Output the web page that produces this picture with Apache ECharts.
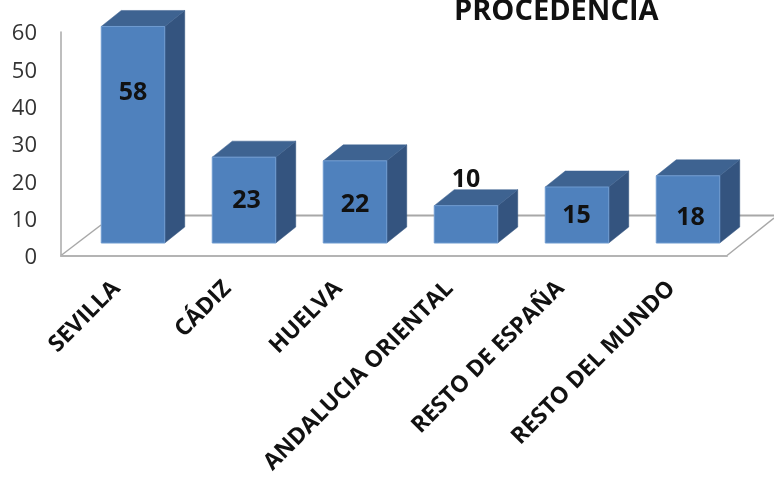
<!DOCTYPE html>
<html>
<head>
<meta charset="utf-8">
<style>html,body{margin:0;padding:0;background:#fff}#c{width:774px;height:477px}</style>
<script src="https://cdn.jsdelivr.net/npm/echarts@6/dist/echarts.min.js"></script>
</head>
<body>
<div id="c"></div>
<script>
const categories = ['SEVILLA', 'CÁDIZ', 'HUELVA', 'ANDALUCIA ORIENTAL', 'RESTO DE ESPAÑA', 'RESTO DEL MUNDO'];
const values = [58, 23, 22, 10, 15, 18];
const titleText = 'PROCEDENCIA';

// 3D look, in pixels
const barShift = 16.5, baseLift = 13, depthX = 20, depthY = 16, barRatio = 0.572;
const labelDx = [0, 2.5, 0, 0, -0.5, 2.5];
const labelDy = [-42, 1, 3, -44.5, 1, 8];
const font = '"Open Sans", "Noto Sans", sans-serif';

function renderBar(params, api) {
  const i = api.value(0), v = api.value(1);
  const top = api.coord([i, v]), base = api.coord([i, 0]);
  const w = api.size([1, 0])[0] * barRatio;
  const x0 = top[0] + barShift - w / 2, x1 = x0 + w;
  const y0 = top[1] - baseLift, y1 = base[1] - baseLift;
  const poly = (points, fill) => ({ type: 'polygon', shape: { points }, style: { fill, stroke: fill, lineWidth: 0.5 } });
  return {
    type: 'group',
    children: [
      poly([[x1, y0], [x1 + depthX, y0 - depthY], [x1 + depthX, y1 - depthY], [x1, y1]], '#34547f'),
      poly([[x0, y0], [x0 + depthX, y0 - depthY], [x1 + depthX, y0 - depthY], [x1, y0]], '#3e6391'),
      { type: 'rect', shape: { x: x0, y: y0, width: w, height: y1 - y0 },
        style: { fill: '#4f81bd', stroke: '#6f9bd0', lineWidth: 1 } },
      { type: 'text', z2: 10, style: {
          text: String(v), x: (x0 + x1) / 2 + labelDx[i], y: (y0 + y1) / 2 + labelDy[i],
          align: 'center', verticalAlign: 'middle', fill: '#111',
          font: '700 25px ' + font } }
    ]
  };
}

const chart = echarts.init(document.getElementById('c'));
chart.setOption({
  animation: false,
  backgroundColor: '#fff',
  title: { text: titleText, left: 449, top: -8,
    textStyle: { fontFamily: font, fontWeight: 700, fontSize: 29, color: '#111' } },
  grid: { left: 61, top: 32, width: 666, height: 224, containLabel: false },
  xAxis: {
    type: 'category', data: categories,
    axisTick: { show: false },
    axisLine: { show: true, lineStyle: { color: '#b4b4b4', width: 2 } },
    axisLabel: { interval: 0, rotate: 45, margin: 29, color: '#111',
      fontFamily: font, fontWeight: 700, fontSize: 23 }
  },
  yAxis: {
    type: 'value', min: 0, max: 60, interval: 10,
    axisTick: { show: false }, splitLine: { show: false },
    axisLine: { show: true, lineStyle: { color: '#a8a8a8', width: 1.5 } },
    axisLabel: { margin: 24, formatter: '{t|{value}}',
      rich: { t: { color: '#333', fontFamily: font, fontSize: 22, padding: [4, 0, 0, 0] } } }
  },
  graphic: [
    { type: 'line', z: 0, shape: { x1: 110, y1: 215.5, x2: 774, y2: 215.5 }, style: { stroke: '#a8a8a8', lineWidth: 2 } },
    { type: 'line', z: 0, shape: { x1: 61, y1: 255.5, x2: 101, y2: 225 }, style: { stroke: '#a8a8a8', lineWidth: 1.5 } },
    { type: 'line', z: 0, shape: { x1: 727, y1: 255.5, x2: 774, y2: 218 }, style: { stroke: '#a8a8a8', lineWidth: 1.5 } }
  ],
  series: [{
    type: 'custom', renderItem: renderBar, clip: false, z: 5,
    encode: { x: 0, y: 1 },
    data: values.map((v, i) => [i, v])
  }]
});
</script>
</body>
</html>
